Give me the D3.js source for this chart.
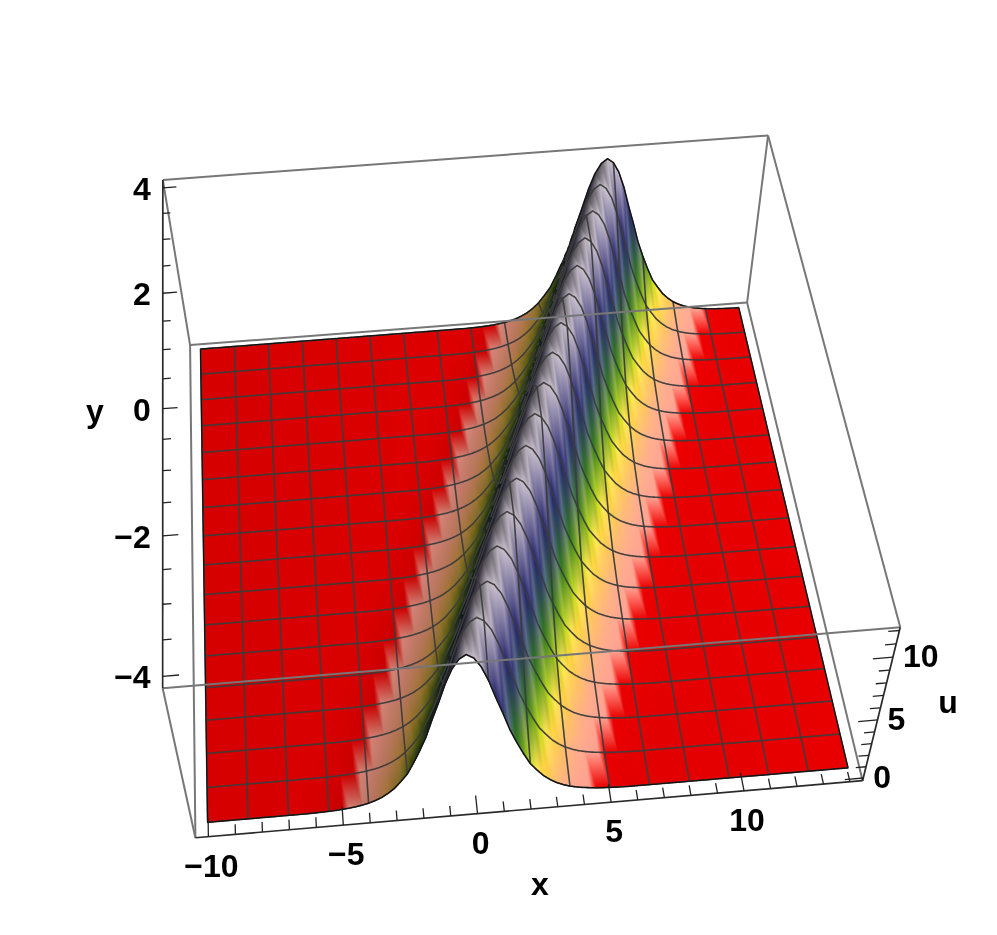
<!DOCTYPE html>
<html>
<head>
<meta charset="utf-8">
<script src="https://d3js.org/d3.v7.min.js"></script>
<style>
  body { margin: 0; background: white; }
  #chart { position: relative; width: 997px; height: 935px; }
  canvas, svg { position: absolute; left: 0; top: 0; }
  text { font-family: "Liberation Sans", Arial, sans-serif; font-weight: bold; font-size: 32px; fill: black; }
</style>
</head>
<body>
<div id="chart"></div>
<script>
var width = 997, height = 935, ss = 2;

// axis ranges and ticks
var xRange = [-10, 14], yRange = [-4, 4], uRange = [0, 12];
var xTicks = [-10, -5, 0, 5, 10], yTicks = [-4, -2, 0, 2, 4], uTicks = [0, 5, 10];
var xMinor = d3.range(-10, 14.5, 1), yMinor = d3.range(-4, 4.25, 0.5), uMinor = d3.range(0, 12.5, 1);

// mesh lines drawn on the surface
var xMesh = d3.range(-10, 14.1, 1.5), yMesh = d3.range(-4, 4.1, 0.5);

// ridge position read along the y axis
var crestY = [-4, -3, -2, -1, 0, 1, 2, 3, 4];
var crestX = [-0.25, 0.75, 1.75, 2.75, 3.75, 4.75, 5.75, 6.75, 7.75];

// height across the ridge, read against distance from the crest
var profileD = [0, 0.25, 0.5, 0.75, 1, 1.25, 1.5, 1.75, 2, 2.25, 2.5, 2.75, 3, 3.25, 3.5, 3.75, 4, 4.25, 4.5, 4.75, 5, 5.25, 5.5, 5.75, 6, 25];
var profileU = [12, 11.7, 11, 9.9, 8.5, 7.2, 5.8, 4.7, 3.7, 2.8, 2.2, 1.65, 1.25, 0.93, 0.7, 0.52, 0.39, 0.29, 0.22, 0.16, 0.12, 0.09, 0.07, 0.05, 0.04, 0];

// colour against height
var colorU = [0, 0.16, 0.22, 0.39, 0.7, 0.93, 1.25, 1.65, 2.2, 2.8, 3.7, 4.7, 5.8, 6.6, 7.4, 9.6, 10.4, 12];
var colorHex = ["#e80000", "#e80000", "#ff9c8e", "#ff9e8a", "#ffa47e", "#ffae6c", "#fdb850", "#fdc848", "#f6dc50", "#bcd41c", "#6aa018", "#2e7a18", "#56747a", "#4e5c94", "#24246a", "#24246a", "#b0a6ba", "#c4bcc6"];

// where the eight box corners sit in the window: [x side, y side, u side, px, py]
var boxCorners = [
  [0, 0, 0, 195, 838], [1, 0, 0, 862, 780], [0, 1, 0, 190, 345], [1, 1, 0, 748, 303],
  [0, 0, 1, 163, 688], [1, 0, 1, 901, 628], [0, 1, 1, 163, 180], [1, 1, 1, 767, 135]
];

function padded(r) {
  var p = (r[1] - r[0]) * 0.02;
  return [r[0] - p, r[1] + p];
}
var sx = d3.scaleLinear().domain(padded(xRange)).range([0, 1]);
var sy = d3.scaleLinear().domain(padded(yRange)).range([0, 1]);
var su = d3.scaleLinear().domain(padded(uRange)).range([0, 1]);
var crestScale = d3.scaleLinear().domain(crestY).range(crestX);
var profile = d3.scaleLinear().domain(profileD).range(profileU);
var colorScale = d3.scaleLinear().domain(colorU).range(colorHex).interpolate(d3.interpolateRgb);
var shadeScale = d3.scaleLinear().domain([-0.6, -0.12, 0.44, 0.7, 1]).range([0.28, 0.66, 0.82, 1, 1.12]).clamp(true);

// fit the camera to the box corners, least squares on 11 unknowns
function solveCamera() {
  var n = 11, A = d3.range(n).map(function () { return d3.range(n + 1).map(function () { return 0; }); });
  function addRow(row, rhs) {
    for (var i = 0; i < n; i++) {
      for (var j = 0; j < n; j++) A[i][j] += row[i] * row[j];
      A[i][n] += row[i] * rhs;
    }
  }
  boxCorners.forEach(function (c) {
    var X = c[0], Y = c[1], Z = c[2], px = c[3] / 1000, py = c[4] / 1000;
    addRow([X, Y, Z, 1, 0, 0, 0, 0, -px * X, -px * Y, -px * Z], px);
    addRow([0, 0, 0, 0, X, Y, Z, 1, -py * X, -py * Y, -py * Z], py);
  });
  for (var i = 0; i < n; i++) {
    var best = i;
    for (var k = i + 1; k < n; k++) if (Math.abs(A[k][i]) > Math.abs(A[best][i])) best = k;
    var tmp = A[i]; A[i] = A[best]; A[best] = tmp;
    for (var r = 0; r < n; r++) {
      if (r == i) continue;
      var f = A[r][i] / A[i][i];
      for (var c = i; c <= n; c++) A[r][c] -= f * A[i][c];
    }
  }
  return A.map(function (row, i) { return row[n] / row[i]; });
}
var cam = solveCamera();

function project(x, y, u) {
  var X = sx(x), Y = sy(y), Z = su(u);
  var w = cam[8] * X + cam[9] * Y + cam[10] * Z + 1;
  return {
    x: 1000 * (cam[0] * X + cam[1] * Y + cam[2] * Z + cam[3]) / w,
    y: 1000 * (cam[4] * X + cam[5] * Y + cam[6] * Z + cam[7]) / w,
    z: w
  };
}

function surfaceU(x, y) {
  return profile(Math.abs(x - crestScale(y)));
}

// surface samples, the same steps the colours were laid down on
var xStep = 0.25, yStep = 0.5;
var xs = d3.range(-10, 14.01, xStep), ys = d3.range(-4, 4.01, yStep);
var lightDir = [0.7, -0.15, 0.7];

function vertex(x, y) {
  var u = surfaceU(x, y);
  var p = project(x, y, u);
  var g = (surfaceU(x + xStep, y) - surfaceU(x - xStep, y)) / (2 * xStep);
  var nx = -g * 0.8, ny = g * 0.27, nz = 1;
  var len = Math.sqrt(nx * nx + ny * ny + nz * nz);
  var nl = (nx * lightDir[0] + ny * lightDir[1] + nz * lightDir[2]) / len;
  var s = shadeScale(nl) * (0.92 + 0.08 * (x + 10) / 24);
  var col = d3.rgb(colorScale(u));
  p.r = col.r * s; p.g = col.g * s; p.b = col.b * s;
  return p;
}

var grid = ys.map(function (y) {
  return xs.map(function (x) { return vertex(x, y); });
});

// z-buffered drawing of the surface triangles
var W = width * ss, H = height * ss;
var zbuf = new Float32Array(W * H).fill(Infinity);
var off = document.createElement("canvas");
off.width = W; off.height = H;
var offCtx = off.getContext("2d");
var img = offCtx.createImageData(W, H);

function fillTri(a, b, c) {
  var ax = a.x * ss, ay = a.y * ss, bx = b.x * ss, by = b.y * ss, cx = c.x * ss, cy = c.y * ss;
  var area = (bx - ax) * (cy - ay) - (by - ay) * (cx - ax);
  if (area == 0) return;
  var x0 = Math.max(0, Math.floor(Math.min(ax, bx, cx))), x1 = Math.min(W - 1, Math.ceil(Math.max(ax, bx, cx)));
  var y0 = Math.max(0, Math.floor(Math.min(ay, by, cy))), y1 = Math.min(H - 1, Math.ceil(Math.max(ay, by, cy)));
  for (var py = y0; py <= y1; py++) {
    for (var px = x0; px <= x1; px++) {
      var l1 = ((bx - px) * (cy - py) - (by - py) * (cx - px)) / area;
      var l2 = ((cx - px) * (ay - py) - (cy - py) * (ax - px)) / area;
      var l3 = 1 - l1 - l2;
      if (l1 < -0.001 || l2 < -0.001 || l3 < -0.001) continue;
      var z = l1 * a.z + l2 * b.z + l3 * c.z, k = py * W + px;
      if (z >= zbuf[k]) continue;
      zbuf[k] = z;
      img.data[k * 4] = l1 * a.r + l2 * b.r + l3 * c.r;
      img.data[k * 4 + 1] = l1 * a.g + l2 * b.g + l3 * c.g;
      img.data[k * 4 + 2] = l1 * a.b + l2 * b.b + l3 * c.b;
      img.data[k * 4 + 3] = 255;
    }
  }
}

for (var j = 0; j < ys.length - 1; j++) {
  for (var i = 0; i < xs.length - 1; i++) {
    var p00 = grid[j][i], p10 = grid[j][i + 1], p01 = grid[j + 1][i], p11 = grid[j + 1][i + 1];
    fillTri(p00, p10, p01);
    fillTri(p10, p11, p01);
  }
}
offCtx.putImageData(img, 0, 0);

var canvas = d3.select("#chart").append("canvas").attr("width", width).attr("height", height).node();
var ctx = canvas.getContext("2d");
ctx.imageSmoothingEnabled = true;
ctx.imageSmoothingQuality = "high";
ctx.drawImage(off, 0, 0, width, height);

var svg = d3.select("#chart").append("svg").attr("width", width).attr("height", height);
var line = d3.line().x(function (d) { return d.x; }).y(function (d) { return d.y; });

// parts of a surface line that are not hidden by the ridge
function visibleRuns(points) {
  var runs = [], cur = [];
  for (var n = 0; n < points.length - 1; n++) {
    var a = points[n], b = points[n + 1];
    for (var t = 0; t < 1; t += 0.125) {
      var p = { x: a.x + (b.x - a.x) * t, y: a.y + (b.y - a.y) * t, z: a.z + (b.z - a.z) * t };
      var k = Math.round(p.y * ss) * W + Math.round(p.x * ss);
      if (p.z <= zbuf[k] + 0.003) cur.push(p);
      else { if (cur.length > 1) runs.push(cur); cur = []; }
    }
  }
  cur.push(points[points.length - 1]);
  if (cur.length > 1) runs.push(cur);
  return runs;
}

var meshPaths = [];
xMesh.forEach(function (x) {
  meshPaths = meshPaths.concat(visibleRuns(ys.map(function (y) { return project(x, y, surfaceU(x, y)); })));
});
yMesh.forEach(function (y) {
  meshPaths = meshPaths.concat(visibleRuns(xs.map(function (x) { return project(x, y, surfaceU(x, y)); })));
});

svg.append("g").selectAll("path").data(meshPaths).join("path")
  .attr("d", line).attr("fill", "none").attr("stroke", "#3c3c3c").attr("stroke-width", 1.6).attr("stroke-opacity", 0.95);

// surface outline
var outline = xs.map(function (x) { return project(x, -4, surfaceU(x, -4)); })
  .concat(ys.map(function (y) { return project(14, y, surfaceU(14, y)); }))
  .concat(xs.slice().reverse().map(function (x) { return project(x, 4, surfaceU(x, 4)); }))
  .concat(ys.slice().reverse().map(function (y) { return project(-10, y, surfaceU(-10, y)); }));
svg.append("path").attr("d", line(outline) + "Z").attr("fill", "none").attr("stroke", "#111").attr("stroke-width", 1.2);

// box edges
var X0 = sx.domain()[0], X1 = sx.domain()[1], Y0 = sy.domain()[0], Y1 = sy.domain()[1], U0 = su.domain()[0], U1 = su.domain()[1];
var greyEdges = [
  [[X0, Y1, U0], [X1, Y1, U0]], [[X0, Y0, U0], [X0, Y1, U0]], [[X1, Y0, U0], [X1, Y1, U0]],
  [[X0, Y1, U0], [X0, Y1, U1]], [[X1, Y1, U0], [X1, Y1, U1]], [[X0, Y0, U0], [X0, Y0, U1]],
  [[X0, Y1, U1], [X1, Y1, U1]], [[X0, Y0, U1], [X1, Y0, U1]], [[X1, Y0, U1], [X1, Y1, U1]]
];
var axisEdges = [
  [[X0, Y0, U0], [X1, Y0, U0]], [[X0, Y0, U1], [X0, Y1, U1]], [[X1, Y0, U0], [X1, Y0, U1]]
];
function edgePath(e) {
  return line(e.map(function (c) { return project(c[0], c[1], c[2]); }));
}
svg.append("g").selectAll("path").data(greyEdges).join("path")
  .attr("d", edgePath).attr("fill", "none").attr("stroke", "#777").attr("stroke-width", 2);
svg.append("g").selectAll("path").data(axisEdges).join("path")
  .attr("d", edgePath).attr("fill", "none").attr("stroke", "#2a2a2a").attr("stroke-width", 1.7);

// ticks and labels for one axis
function drawAxis(minor, major, base, dir, labelOffset, anchor) {
  var g = svg.append("g");
  g.selectAll("path").data(minor).join("path")
    .attr("d", function (v) {
      var len = major.indexOf(v) >= 0 ? 1 : 0.55;
      var a = base(v), b = [a[0] + dir[0] * len, a[1] + dir[1] * len, a[2] + dir[2] * len];
      return edgePath([a, b]);
    })
    .attr("fill", "none").attr("stroke", "#222").attr("stroke-width", 1.3);
  g.selectAll("text").data(major).join("text")
    .attr("text-anchor", anchor)
    .attr("x", function (v) { var a = base(v); return project(a[0], a[1], a[2]).x + labelOffset[0]; })
    .attr("y", function (v) { var a = base(v); return project(a[0], a[1], a[2]).y + labelOffset[1]; })
    .text(function (v) { return v < 0 ? "\u2212" + (-v) : v; });
}
drawAxis(xMinor, xTicks, function (v) { return [v, Y0, U0]; }, [0, 0.26, 0], [3, 40], "middle");
drawAxis(yMinor, yTicks, function (v) { return [X0, v, U1]; }, [0.55, 0, 0], [-12, 12], "end");
drawAxis(uMinor, uTicks, function (v) { return [X1, Y0, v]; }, [-0.7, 0, 0], [10, 10], "start");

// axis titles
var titles = [["x", 540, 895], ["y", 95, 422], ["u", 948, 713]];
svg.append("g").selectAll("text").data(titles).join("text")
  .attr("text-anchor", "middle")
  .attr("x", function (d) { return d[1]; })
  .attr("y", function (d) { return d[2]; })
  .text(function (d) { return d[0]; });
</script>
</body>
</html>
